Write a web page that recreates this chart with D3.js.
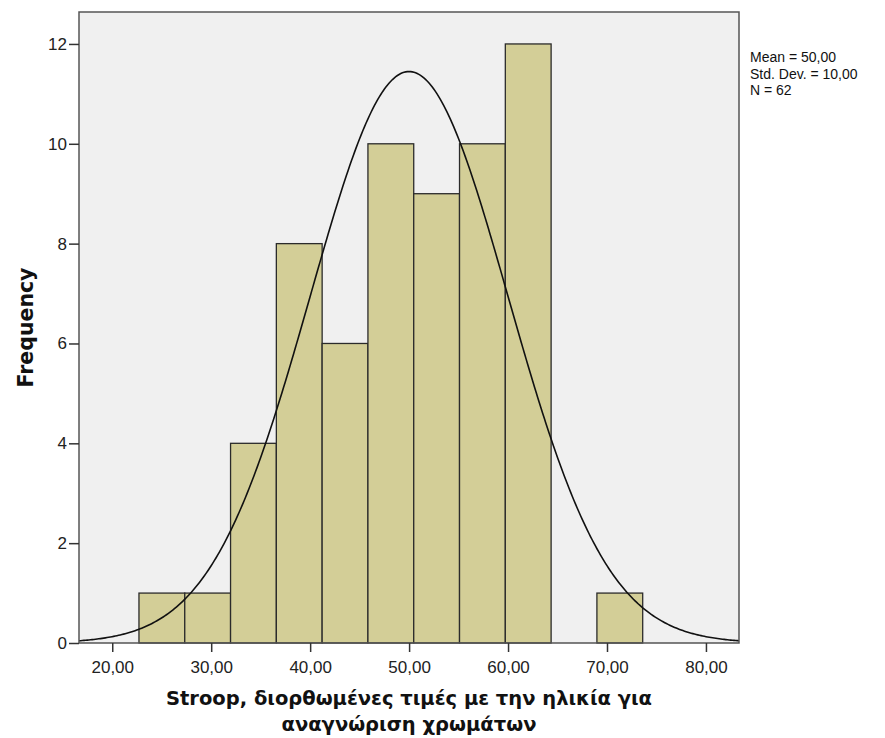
<!DOCTYPE html>
<html>
<head>
<meta charset="utf-8">
<script src="https://cdn.jsdelivr.net/npm/d3@7"></script>
<style>
  body { margin: 0; background: #fff; }
  svg text { font-family: "Liberation Sans", Arial, sans-serif; }
  svg text.title { font-family: "DejaVu Sans", Verdana, sans-serif; font-weight: bold; }
</style>
</head>
<body>
<div class="canvas"></div>
<script>
// Histogram bins (start of first bin, bin width) and counts
const binStart = 22.70;
const binWidth = 4.628;
const counts = [1, 1, 4, 8, 6, 10, 9, 10, 12, 0, 1];
const xTicks = [20, 30, 40, 50, 60, 70, 80];
const yTicks = [0, 2, 4, 6, 8, 10, 12];
const stats = { mean: 50, sd: 10, n: 62 };
const legendLines = ['Mean = 50,00', 'Std. Dev. = 10,00', 'N = 62'];
const xTitle = ['Stroop, διορθωμένες τιμές με την ηλικία για', 'αναγνώριση χρωμάτων'];

const dims = { width: 885, height: 738, left: 79, right: 739, top: 12, bottom: 643 };

const svg = d3.select('.canvas')
    .append('svg')
    .attr('width', dims.width)
    .attr('height', dims.height);

const x = d3.scaleLinear().domain([16.64, 83.34]).range([dims.left, dims.right]);
const y = d3.scaleLinear().domain([0, 12.64]).range([dims.bottom, dims.top]);

// Plot background
svg.append('rect')
    .attr('x', dims.left).attr('y', dims.top)
    .attr('width', dims.right - dims.left)
    .attr('height', dims.bottom - dims.top)
    .attr('fill', '#f0f0f0');

// Bars
const bins = counts.map((c, i) => ({ x0: binStart + i * binWidth, x1: binStart + (i + 1) * binWidth, count: c }));
svg.selectAll('.bar')
    .data(bins.filter(d => d.count > 0))
    .enter()
    .append('rect')
    .attr('class', 'bar')
    .attr('x', d => x(d.x0))
    .attr('y', d => y(d.count))
    .attr('width', d => x(d.x1) - x(d.x0))
    .attr('height', d => y(0) - y(d.count))
    .attr('fill', '#d3ce97')
    .attr('stroke', '#2b2b2b')
    .attr('stroke-width', 1.3);

// Normal curve from the summary stats
const dens = v => stats.n * binWidth / (stats.sd * Math.sqrt(2 * Math.PI)) *
    Math.exp(-0.5 * Math.pow((v - stats.mean) / stats.sd, 2));
const curvePts = d3.range(0, 401).map(i => {
    const v = x.domain()[0] + i * (x.domain()[1] - x.domain()[0]) / 400;
    return [v, dens(v)];
});
svg.append('path')
    .datum(curvePts)
    .attr('fill', 'none')
    .attr('stroke', '#111')
    .attr('stroke-width', 1.6)
    .attr('d', d3.line().x(d => x(d[0])).y(d => y(d[1])));

// Frame
svg.append('rect')
    .attr('x', dims.left).attr('y', dims.top)
    .attr('width', dims.right - dims.left)
    .attr('height', dims.bottom - dims.top)
    .attr('fill', 'none')
    .attr('stroke', '#555')
    .attr('stroke-width', 1.5);

// Y axis
const yAxis = svg.append('g')
    .attr('transform', `translate(${dims.left},0)`)
    .call(d3.axisLeft(y).tickValues(yTicks).tickSize(10).tickPadding(2).tickFormat(d3.format('d')));
yAxis.select('.domain').remove();
yAxis.selectAll('line').attr('stroke', '#333').attr('stroke-width', 1.5);
yAxis.selectAll('text').attr('font-size', 17).attr('fill', '#222');

// X axis
const xAxis = svg.append('g')
    .attr('transform', `translate(0,${dims.bottom})`)
    .call(d3.axisBottom(x).tickValues(xTicks).tickSize(9).tickPadding(9)
        .tickFormat(d => d3.format('.2f')(d).replace('.', ',')));
xAxis.select('.domain').remove();
xAxis.selectAll('line').attr('stroke', '#333').attr('stroke-width', 1.5);
xAxis.selectAll('text').attr('font-size', 17).attr('fill', '#222');

// Axis titles
svg.append('text')
    .attr('class', 'title')
    .attr('transform', `translate(33,${(dims.top + dims.bottom) / 2}) rotate(-90)`)
    .attr('text-anchor', 'middle')
    .attr('font-size', 20.5)
    .attr('fill', '#111')
    .text('Frequency');

svg.selectAll('.xtitle')
    .data(xTitle)
    .enter()
    .append('text')
    .attr('class', 'title xtitle')
    .attr('x', (dims.left + dims.right) / 2)
    .attr('y', (d, i) => 705 + i * 26)
    .attr('text-anchor', 'middle')
    .attr('font-size', 19.5)
    .attr('fill', '#111')
    .text(d => d);

// Stats legend
svg.selectAll('.legend')
    .data(legendLines)
    .enter()
    .append('text')
    .attr('class', 'legend')
    .attr('x', 750)
    .attr('y', (d, i) => 62 + i * 16.5)
    .attr('font-size', 14)
    .attr('fill', '#111')
    .text(d => d);
</script>
</body>
</html>
